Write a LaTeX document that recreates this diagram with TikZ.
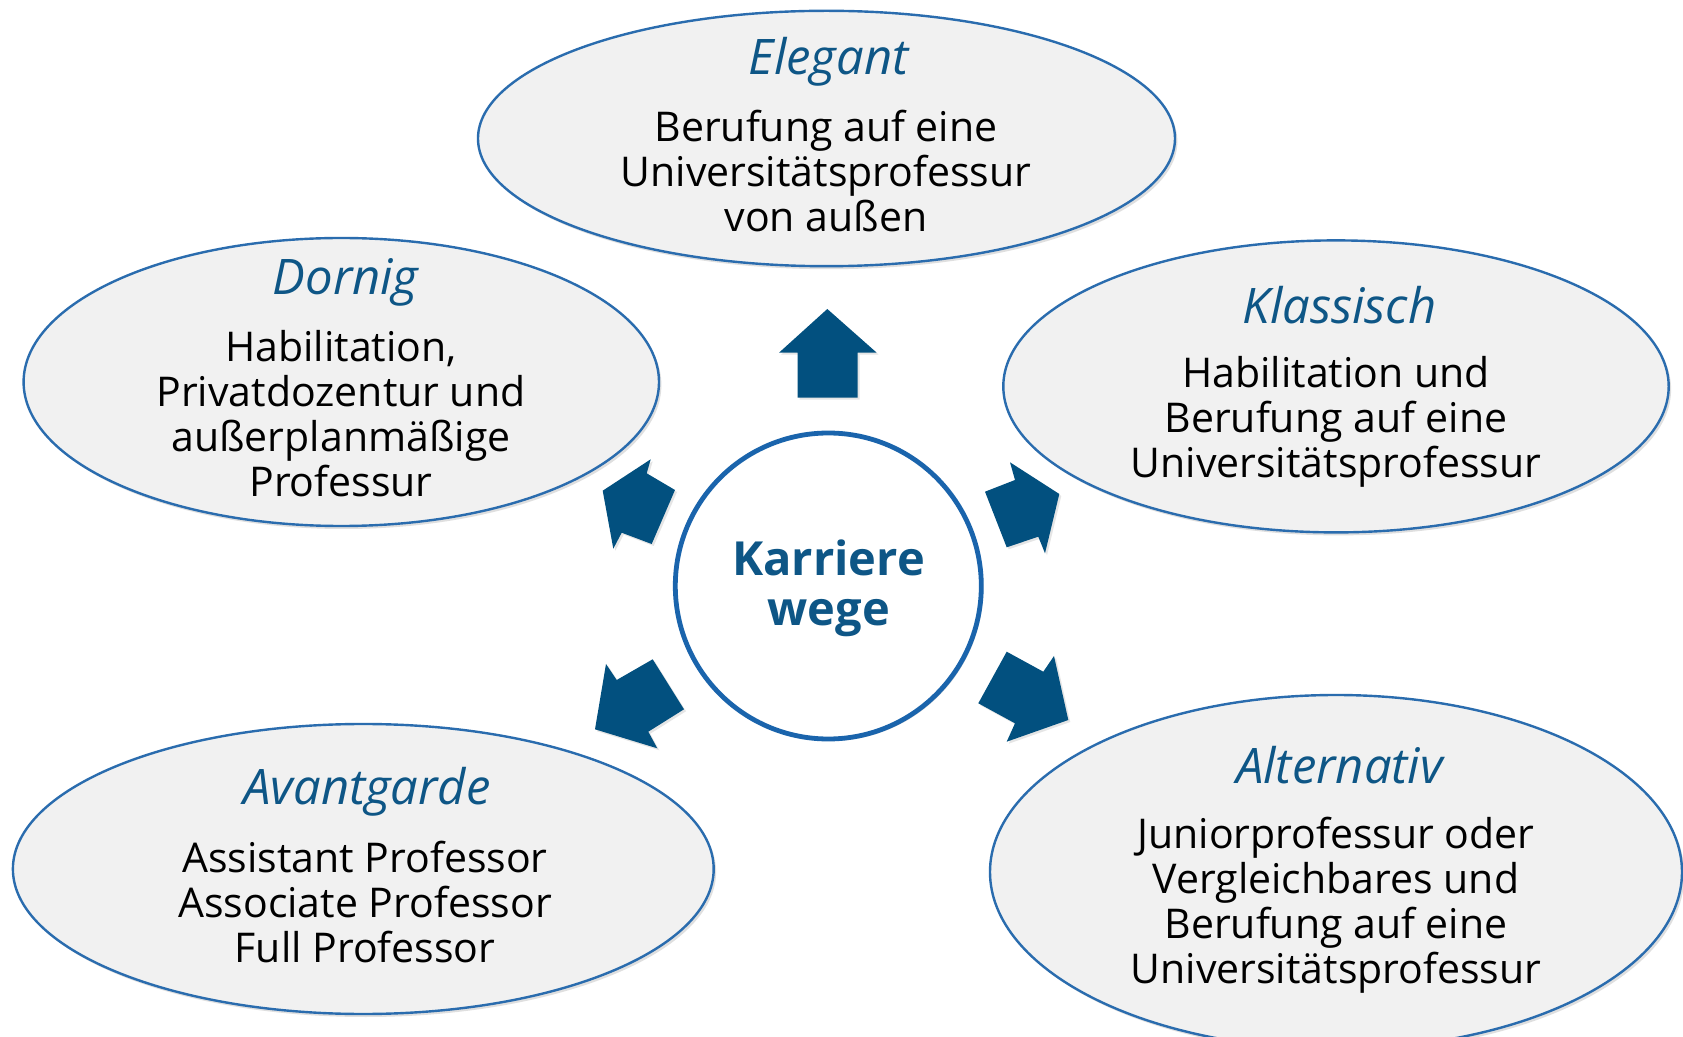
\documentclass[tikz,border=0pt]{standalone}
\usepackage{fontspec}
\setmainfont{Open Sans}
\usetikzlibrary{shapes.geometric,shadows}
\definecolor{arrowblue}{HTML}{02507F}
\definecolor{titleblue}{HTML}{0E5686}
\definecolor{ringblue}{HTML}{1A64AC}
\definecolor{edgeblue}{HTML}{2A6CAE}
\definecolor{ovalfill}{HTML}{F1F1F1}
\begin{document}
\begin{tikzpicture}[x=0.5pt,y=-0.5pt,
  oval/.style={ellipse, draw=edgeblue, line width=1.2pt, fill=ovalfill, inner sep=0pt,
    drop shadow={shadow xshift=1.2pt, shadow yshift=-1.5pt, opacity=0.25}},
  ring/.style={circle, draw=ringblue, line width=2.4pt, fill=white, inner sep=0pt,
    drop shadow={shadow xshift=1pt, shadow yshift=-1pt, opacity=0.35}},
  ttl/.style={font=\fontsize{24.5}{28}\selectfont\itshape, text=titleblue, inner sep=0pt},
  body/.style={font=\fontsize{20.5}{22.5}\selectfont, align=center, inner sep=0pt, text=black},
  hub/.style={font=\fontsize{23.5}{25}\selectfont\bfseries, align=center, inner sep=0pt, text=titleblue},
  blk/.style={fill=arrowblue, draw=none,
    drop shadow={shadow xshift=1pt, shadow yshift=-1pt, opacity=0.2}}]
\useasboundingbox (0,0) rectangle (1683,1037);
\fill[white] (0,0) rectangle (1683,1037);

% ovals
\node[oval, minimum width=348.5pt, minimum height=127.7pt] (elegant) at (826.5,138.5) {};
\node[oval, minimum width=317.7pt, minimum height=144pt] (dornig) at (341.3,382) {};
\node[oval, minimum width=332.7pt, minimum height=146pt] (klassisch) at (1336,386.4) {};
\node[oval, minimum width=350.4pt, minimum height=145pt] (avant) at (363.3,869) {};
\node[oval, minimum width=346pt, minimum height=177pt] (alt) at (1336,872) {};

% centre
\node[ring, minimum size=153pt] (hubc) at (828.3,586) {};
\node[hub] (hubt) at (828.6,588) {Karriere\\wege};

% block arrows
\fill[blk] (827.3,309) -- (876.7,352.7) -- (857.7,352.7) -- (857.7,397.7) -- (797.7,397.7) -- (797.7,352.7) -- (779,352.7) -- cycle;
\fill[blk] (602.7,490.7) -- (650.7,459.3) -- (646.7,473.3) -- (675,490) -- (651.7,544) -- (621.7,532.7) -- (613.3,548.7) -- cycle;
\fill[blk] (1059.3,494) -- (1010,462.3) -- (1015,480) -- (985,491.7) -- (1006.7,547.3) -- (1038.3,536.7) -- (1045,553.3) -- cycle;
\fill[blk] (595,729.3) -- (606,664) -- (616.7,680) -- (652.7,659.3) -- (684,709.3) -- (648.3,731.7) -- (657.3,748.3) -- cycle;
\fill[blk] (1068.3,720) -- (1054,656) -- (1043.3,671.7) -- (1006.7,651.7) -- (978.3,703.3) -- (1015,723.3) -- (1006.7,741.7) -- cycle;

% titles
\node[ttl] (t1) at (828.6,62) {Elegant};
\node[ttl] (t2) at (345.6,282) {Dornig};
\node[ttl] (t3) at (1339.5,305) {Klassisch};
\node[ttl] (t4) at (367,792) {Avantgarde};
\node[ttl] (t5) at (1339.5,765) {Alternativ};

% bodies
\node[body] (b1) at (826,171) {Berufung auf eine\\Universitätsprofessur\\von außen};
\node[body] (b2) at (341,414) {Habilitation,\\Privatdozentur und\\außerplanmäßige\\Professur};
\node[body] (b3) at (1336,421.6) {Habilitation und\\Berufung auf eine\\Universitätsprofessur};
\node[body] (b4) at (365,901.6) {Assistant Professor\\Associate Professor\\Full Professor};
\node[body] (b5) at (1336,905.7) {Juniorprofessur oder\\Vergleichbares und\\Berufung auf eine\\Universitätsprofessur};
\end{tikzpicture}
\end{document}
